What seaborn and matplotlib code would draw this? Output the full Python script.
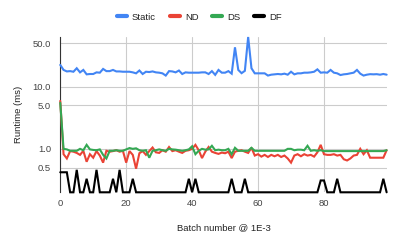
import numpy as np
import pandas as pd
import matplotlib
matplotlib.use("Agg")
import matplotlib.pyplot as plt
import seaborn as sns

# runtime per batch (ms)
static = [22.4, 18.6, 17.6, 17.8, 17.4, 19.8, 17.0, 18.6, 15.8, 16.0,
          16.0, 17.0, 16.8, 19.3, 17.8, 17.8, 18.6, 17.6, 17.6, 17.4,
          17.4, 17.4, 17.0, 16.4, 18.2, 16.0, 17.4, 17.2, 17.6, 17.0,
          16.8, 16.4, 15.1, 17.8, 17.6, 17.0, 18.2, 16.0, 17.0, 16.8,
          16.8, 16.8, 16.8, 17.0, 17.0, 16.0, 17.8, 15.5, 18.6, 16.8,
          16.8, 17.8, 16.2, 43.0, 18.6, 16.5, 18.0, 63.0, 19.8, 16.4,
          16.4, 16.4, 16.4, 15.1, 15.6, 15.8, 16.0, 15.8, 16.2, 15.6,
          17.4, 15.8, 16.4, 16.4, 16.8, 16.8, 17.0, 17.4, 19.0, 16.8,
          17.0, 16.8, 18.6, 16.8, 16.4, 15.4, 15.8, 16.0, 16.4, 16.8,
          18.6, 16.2, 15.1, 15.6, 15.9, 15.8, 15.9, 15.6, 16.0, 15.6]

nd = [5.9, 0.82, 0.70, 0.92, 0.90, 0.86, 0.80, 0.93, 0.62, 0.82,
      0.72, 0.92, 0.78, 0.60, 0.93, 0.90, 0.92, 0.95, 0.90, 0.93,
      0.60, 0.92, 0.80, 0.48, 0.85, 0.92, 0.80, 0.92, 1.05, 0.88,
      0.86, 0.95, 0.90, 1.07, 0.92, 0.95, 0.90, 0.86, 0.93, 0.95,
      1.00, 1.16, 0.95, 0.71, 0.90, 1.07, 0.90, 0.86, 0.83, 0.87,
      0.85, 0.90, 0.71, 0.90, 0.93, 0.95, 0.90, 0.86, 1.04, 0.78,
      0.82, 0.75, 0.80, 0.74, 0.80, 0.76, 0.80, 0.74, 0.78, 0.70,
      0.60, 0.78, 0.82, 0.76, 0.82, 0.78, 0.80, 0.75, 0.88, 1.16,
      0.82, 0.80, 0.80, 0.82, 0.78, 0.80, 0.68, 0.65, 0.70, 0.78,
      0.80, 1.00, 0.82, 0.95, 0.72, 0.72, 0.72, 0.72, 0.72, 0.95]

ds = [5.5, 1.00, 0.98, 0.93, 0.93, 0.93, 1.00, 0.95, 1.16, 0.98,
      0.96, 0.95, 0.98, 0.80, 0.70, 0.93, 0.93, 0.95, 0.93, 0.93,
      0.98, 1.03, 1.00, 1.02, 0.95, 0.93, 0.95, 0.72, 0.93, 0.95,
      0.98, 0.95, 0.93, 1.00, 0.98, 0.97, 0.95, 0.93, 0.95, 0.98,
      1.10, 0.82, 0.93, 1.00, 0.97, 0.98, 1.12, 0.95, 0.97, 0.95,
      0.95, 1.00, 0.82, 1.04, 0.93, 0.93, 0.93, 0.93, 1.04, 0.93,
      0.93, 0.93, 0.93, 0.93, 0.93, 0.93, 0.93, 0.93, 0.93, 1.00,
      1.00, 0.95, 0.97, 0.97, 0.95, 1.12, 0.93, 0.95, 0.93, 0.95,
      0.92, 0.92, 0.92, 0.92, 0.92, 0.92, 0.92, 0.92, 0.92, 0.92,
      0.92, 0.92, 0.92, 0.92, 0.92, 0.92, 0.92, 0.92, 0.92, 0.95]

df_vals = [0.42, 0.42, 0.42, 0.2, 0.2, 0.46, 0.2, 0.2, 0.33, 0.2,
           0.2, 0.46, 0.2, 0.2, 0.2, 0.2, 0.33, 0.2, 0.46, 0.2,
           0.2, 0.2, 0.33, 0.2, 0.2, 0.2, 0.2, 0.2, 0.2, 0.2,
           0.2, 0.2, 0.2, 0.2, 0.2, 0.2, 0.2, 0.2, 0.2, 0.33,
           0.2, 0.33, 0.2, 0.2, 0.2, 0.2, 0.2, 0.2, 0.2, 0.2,
           0.2, 0.2, 0.33, 0.2, 0.2, 0.2, 0.33, 0.2, 0.2, 0.2,
           0.2, 0.2, 0.2, 0.2, 0.2, 0.2, 0.2, 0.2, 0.2, 0.2,
           0.2, 0.2, 0.2, 0.2, 0.2, 0.2, 0.2, 0.2, 0.2, 0.31,
           0.31, 0.2, 0.2, 0.2, 0.33, 0.2, 0.2, 0.2, 0.2, 0.2,
           0.2, 0.2, 0.2, 0.2, 0.2, 0.2, 0.2, 0.2, 0.33, 0.2]

series_names = ["Static", "ND", "DS", "DF"]
colours = ["#4285F4", "#EA4335", "#34A853", "#000000"]
y_ticks = [0.5, 1.0, 5.0, 10.0, 50.0]
y_ticklabels = ["0.5", "1.0", "5.0", "10.0", "50.0"]
x_ticks = [0, 20, 40, 60, 80]


def main():
    wide = pd.DataFrame({"batch": np.arange(len(static)),
                         "Static": static, "ND": nd, "DS": ds, "DF": df_vals})
    df = wide.melt(id_vars="batch", var_name="series", value_name="runtime")

    sns.set_style("white")
    plt.rcParams['font.family'] = ["Liberation Sans", "DejaVu Sans"]
    plt.rcParams['font.size'] = 6.8

    fig = plt.figure(figsize=(3.99, 2.46), dpi=100)
    ax = fig.add_axes([0.151, 0.2183, 0.818, 0.6313])

    sns.lineplot(data=df, x="batch", y="runtime", hue="series",
                 hue_order=series_names, palette=colours, linewidth=1.5,
                 ax=ax)
    for line in ax.get_lines():
        line.set_clip_on(False)
        line.set_solid_joinstyle("miter")

    ax.set_yscale("log")
    ax.set_ylim(0.2, 63)
    ax.set_xlim(0, 99)
    ax.yaxis.set_major_locator(matplotlib.ticker.FixedLocator(y_ticks))
    ax.yaxis.set_minor_locator(matplotlib.ticker.NullLocator())
    ax.set_yticklabels(y_ticklabels)
    ax.set_xticks(x_ticks)

    ax.grid(True, color="#cccccc", lw=0.8)
    ax.set_axisbelow(True)
    for s in ["top", "right", "bottom"]:
        ax.spines[s].set_visible(False)
    ax.spines["left"].set_color("#333333")
    ax.spines["left"].set_linewidth(0.8)
    ax.spines["left"].set_zorder(1)
    ax.tick_params(length=0, labelsize=6.8, colors="#444444")
    ax.tick_params(axis="y", pad=6.7)
    ax.tick_params(axis="x", pad=5)

    ax.set_xlabel("Batch number @ 1E-3", color="#222222", fontsize=6.8)
    ax.set_ylabel("Runtime (ms)", color="#222222", fontsize=6.8)
    ax.xaxis.label.set_va("center")
    ax.yaxis.label.set_va("center")
    ax.xaxis.set_label_coords(0.5, -0.23)
    ax.yaxis.set_label_coords(-0.129, 0.5)

    handles, labels = ax.get_legend_handles_labels()
    ax.get_legend().remove()
    leg = fig.legend(handles, labels, loc="center", ncol=4,
                     bbox_to_anchor=(0.5, 0.9297), frameon=False,
                     fontsize=6.8, handlelength=1.06, handletextpad=0.55,
                     columnspacing=1.45)
    for h in leg.get_lines():
        h.set_linewidth(3)
    for t in leg.get_texts():
        t.set_color("#222222")

    fig.savefig("out.png", dpi=100)


if __name__ == "__main__":
    main()
